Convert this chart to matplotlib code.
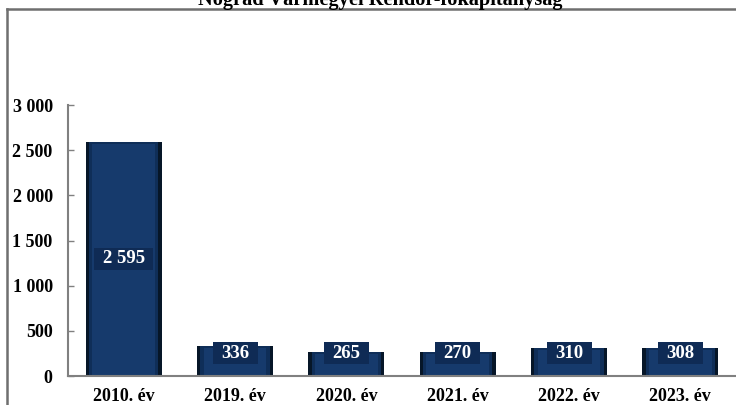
import matplotlib.pyplot as plt
from matplotlib.lines import Line2D

years = ["2010. év", "2019. év", "2020. év", "2021. év", "2022. év", "2023. év"]
values = [2595, 336, 265, 270, 310, 308]
yticks = [0, 500, 1000, 1500, 2000, 2500, 3000]
title = "Nógrád Vármegyei Rendőr-főkapitányság"

plt.rcParams['font.family'] = ['Liberation Serif', 'DejaVu Serif']
plt.rcParams['font.weight'] = 'bold'

fig = plt.figure(figsize=(7.36, 4.05), dpi=100)
ax = fig.add_axes([0.0924, 0.0716, 0.9076, 0.669])

x = range(len(years))
# bevelled bars: dark outer body, lighter inner face
ax.bar(x, values, width=0.68, color='#061628', zorder=2)
ax.bar(x, values, width=0.62, color='#0f2e58', zorder=3)
ax.bar(x, [v - 25 for v in values], width=0.56, color='#163a6c', zorder=4)

ax.set_xlim(-0.5, len(years) - 0.5)
ax.set_ylim(0, 3000)

for i, v in zip(x, values):
    ax.text(i, max(v / 2, 250), f"{v:,}".replace(",", " "), ha='center', va='center',
            color='white', fontsize=13.5, fontweight='bold', zorder=6,
            bbox=dict(boxstyle='square,pad=0.45', fc='#0f2b55', ec='none',
                      mutation_aspect=0.3))

ax.set_xticks(list(x))
ax.set_xticklabels(years, fontsize=13)
ax.set_yticks(yticks)
ax.set_yticklabels([f"{t:,}".replace(",", " ") for t in yticks], fontsize=13)
ax.tick_params(axis='y', direction='in', length=4, width=1, color='#808080', pad=11)
ax.tick_params(axis='x', length=0, pad=8.5)

for s in ['top', 'right']:
    ax.spines[s].set_visible(False)
for s in ['left', 'bottom']:
    ax.spines[s].set_color('#808080')
    ax.spines[s].set_linewidth(1.5)
    ax.spines[s].set_zorder(7)

fig.text(0.516, 0.988, title, ha='center', va='baseline', fontsize=14.7, fontweight='bold')
fig.add_artist(Line2D([0.0095, 1.0], [0.978, 0.978], color='#6f6f6f', lw=1.8, transform=fig.transFigure))
fig.add_artist(Line2D([0.0095, 0.0095], [0.978, 0.0], color='#6f6f6f', lw=1.8, transform=fig.transFigure))

plt.savefig('out.png', dpi=100)
